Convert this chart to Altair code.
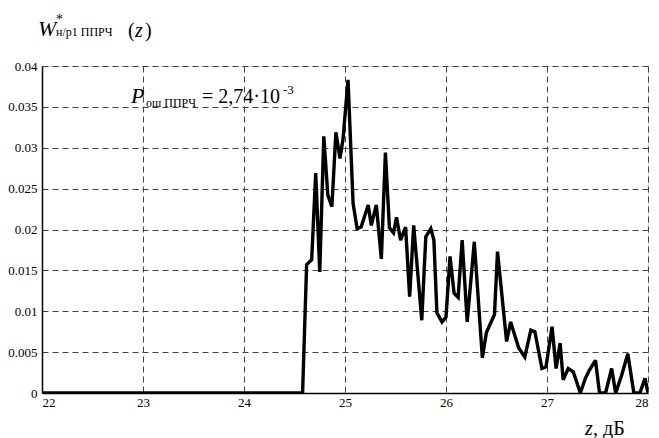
import altair as alt
import pandas as pd

# ---- data ----
z_vals = [22.0, 24.58, 24.62, 24.67, 24.71, 24.75, 24.79, 24.83, 24.87, 24.91,
          24.95, 24.98, 25.03, 25.08, 25.12, 25.16, 25.23, 25.26, 25.31, 25.36,
          25.40, 25.44, 25.48, 25.51, 25.55, 25.60, 25.64, 25.68, 25.76, 25.80,
          25.85, 25.88, 25.91, 25.96, 26.00, 26.04, 26.08, 26.12, 26.16, 26.21,
          26.28, 26.36, 26.40, 26.48, 26.51, 26.60, 26.64, 26.72, 26.78, 26.84,
          26.88, 26.95, 26.99, 27.05, 27.09, 27.13, 27.16, 27.21, 27.26, 27.33,
          27.38, 27.42, 27.48, 27.52, 27.58, 27.64, 27.68, 27.74, 27.80, 27.86,
          27.92, 27.97, 28.0]
w_vals = [0.0, 0.0, 0.0157, 0.0163, 0.0269, 0.0148, 0.0314, 0.0242, 0.0228, 0.0319,
          0.0287, 0.0310, 0.0383, 0.0232, 0.0201, 0.0203, 0.0230, 0.0205, 0.0230, 0.0164,
          0.0294, 0.0202, 0.0196, 0.0215, 0.0187, 0.0203, 0.0118, 0.0205, 0.0089, 0.0191,
          0.0201, 0.0187, 0.0098, 0.0087, 0.0093, 0.0167, 0.0122, 0.0117, 0.0187, 0.0087,
          0.0185, 0.0043, 0.0074, 0.0096, 0.0173, 0.0063, 0.0087, 0.0055, 0.0044, 0.0077,
          0.0075, 0.0030, 0.0032, 0.0081, 0.0030, 0.0061, 0.0016, 0.0030, 0.0026, 0.0,
          0.0018, 0.0028, 0.0040, 0.0, 0.0, 0.0030, 0.0, 0.0022, 0.0048, 0.0,
          0.0, 0.0018, 0.0]

x_ticks = [22, 23, 24, 25, 26, 27, 28]
y_ticks = [0, 0.005, 0.01, 0.015, 0.02, 0.025, 0.03, 0.035, 0.04]

y_title_main = "W"
y_title_star = "*"
y_title_sub = "н/р1  ППРЧ"
y_title_paren_l = "("
y_title_z = "z"
y_title_paren_r = ")"
ann_P = "P"
ann_sub = "ош ППРЧ"
ann_main = "= 2,74·10"
ann_sup = "-3"
x_title_z = "z"
x_title_rest = ", дБ"

FONT = "Liberation Serif, Times New Roman, serif"
W, H = 606, 327

df = pd.DataFrame({"z": z_vals, "w": w_vals})

common_axis = dict(title=None, grid=True, gridDash=[6, 4], gridColor="#444",
                   gridWidth=1, ticks=False, labelFontSize=13, labelFont=FONT,
                   labelColor="black", domainColor="black", domainWidth=1.5)

line = alt.Chart(df).mark_line(color="black", strokeWidth=3.4, strokeJoin="miter",
                               strokeMiterLimit=3, clip=True).encode(
    x=alt.X("z:Q", scale=alt.Scale(domain=[22, 28], nice=False, zero=False),
            axis=alt.Axis(values=x_ticks, format="d", labelPadding=3, **common_axis)),
    y=alt.Y("w:Q", scale=alt.Scale(domain=[0, 0.04], nice=False),
            axis=alt.Axis(values=y_ticks, format="~g", labelPadding=5, **common_axis)),
)


def txt(s, x, y, size, italic=False):
    return alt.Chart(pd.DataFrame({"t": [s]})).mark_text(
        align="left", baseline="alphabetic", font=FONT, fontSize=size,
        fontStyle="italic" if italic else "normal", color="black"
    ).encode(x=alt.value(x), y=alt.value(y), text="t:N")


layers = [
    line,
    txt(y_title_main, -4, -30, 22, True),
    txt(y_title_star, 14, -42, 14),
    txt(y_title_sub, 14, -30, 12),
    txt(y_title_paren_l, 86, -29, 20),
    txt(y_title_z, 93, -29, 20, True),
    txt(y_title_paren_r, 103, -29, 20),
    txt(ann_P, 89, 37, 22, True),
    txt(ann_sub, 104, 41, 12),
    txt(ann_main, 160, 37, 20),
    txt(ann_sup, 241, 28, 13),
    txt(x_title_z, 543, 369, 20, True),
    txt(x_title_rest, 551, 369, 20),
]

chart = alt.layer(*layers).properties(
    width=W, height=H,
    autosize=alt.AutoSizeParams(type="none"),
    padding={"left": 34, "top": 58, "right": 3, "bottom": 45},
).configure_view(stroke="black", strokeWidth=1.2).configure(background="white")

chart.save("out.html", embed_options={"renderer": "svg", "actions": False})
